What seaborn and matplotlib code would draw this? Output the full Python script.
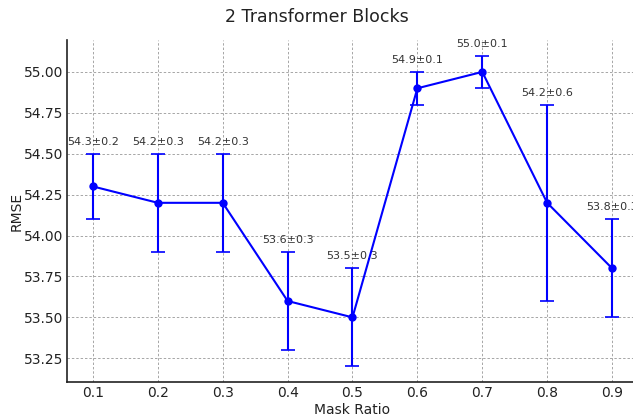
import numpy as np
import pandas as pd
import matplotlib
matplotlib.use("Agg")
import matplotlib.pyplot as plt
import seaborn as sns

mask_ratio = [0.1, 0.2, 0.3, 0.4, 0.5, 0.6, 0.7, 0.8, 0.9]
rmse_mean = [54.3, 54.2, 54.2, 53.6, 53.5, 54.9, 55.0, 54.2, 53.8]
rmse_std = [0.2, 0.3, 0.3, 0.3, 0.3, 0.1, 0.1, 0.6, 0.3]

df = pd.DataFrame({"Mask Ratio": mask_ratio, "RMSE": rmse_mean, "std": rmse_std})

sns.set_style("white")
plt.rcParams["font.family"] = ["DejaVu Sans"]

fig = plt.figure(figsize=(6.33, 4.2), dpi=100)
ax = fig.add_axes([67 / 633, 38 / 420, 571 / 633, 342 / 420])

ax.errorbar(df["Mask Ratio"], df["RMSE"], yerr=df["std"], fmt="none",
            ecolor="#0000ff", elinewidth=1.5, capsize=5, capthick=1.2, zorder=3)
sns.lineplot(data=df, x="Mask Ratio", y="RMSE", color="#0000ff", marker="o",
             markersize=6, markeredgewidth=0, linewidth=1.5, ax=ax, zorder=4)

for x, m, s in zip(mask_ratio, rmse_mean, rmse_std):
    ax.annotate(f"{m:.1f}±{s:.1f}", (x, m + s), xytext=(0, 5),
                textcoords="offset points", ha="center", va="bottom",
                fontsize=8, color="#333333")

ax.set_xticks(mask_ratio)
ax.set_xticklabels([f"{v:.1f}" for v in mask_ratio])
ax.grid(True, linestyle=(0, (2.5, 2)), color="#a6a6a6", linewidth=0.7)
ax.set_axisbelow(True)
ax.tick_params(length=0, labelsize=10, colors="#222222", pad=3)
for side in ["top", "right"]:
    ax.spines[side].set_visible(False)
for side in ["left", "bottom"]:
    ax.spines[side].set_color("#222222")
    ax.spines[side].set_linewidth(1.2)

ax.set_xlabel("Mask Ratio", fontsize=10, color="#222222", labelpad=2)
ax.set_ylabel("RMSE", fontsize=10, color="#222222", labelpad=0)
fig.suptitle("2 Transformer Blocks", y=0.982, fontsize=12.5, color="#222222")

fig.savefig("out.png", dpi=100)
